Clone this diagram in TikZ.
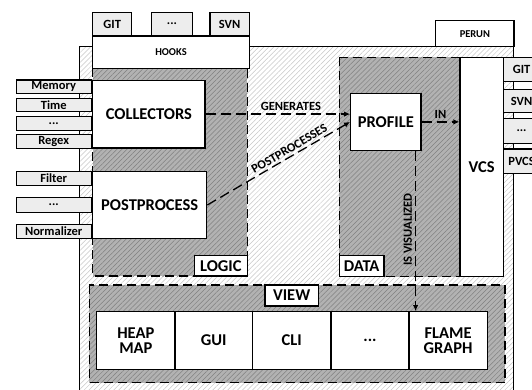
\documentclass[tikz,border=0pt]{standalone}
\usepackage{fontspec}
\setmainfont{Carlito}
\usetikzlibrary{patterns.meta,arrows.meta,calc}
\begin{document}
\begin{tikzpicture}[x=1pt,y=-1pt,
  box/.style={draw=black, line width=1.2pt, fill=white, inner sep=0pt, align=center, font=\bfseries\fontsize{16.5}{17}\selectfont},
  lbox/.style={box, fill=black!7, font=\bfseries\fontsize{12.5}{13}\selectfont},
  sbox/.style={box, font=\bfseries\fontsize{12.5}{13}\selectfont},
  tbox/.style={box, font=\bfseries\fontsize{10.5}{11}\selectfont},
  region/.style={line width=1.2pt, dash pattern=on 9pt off 5pt},
  conn/.style={line width=1.3pt, dash pattern=on 10pt off 5pt, -{Latex[length=6pt,width=5.5pt]}},
  clabel/.style={font=\bfseries\fontsize{12.5}{13}\selectfont, inner sep=1.5pt},
  lighthatch/.style={pattern={Lines[angle=45,distance=3.5pt,line width=0.5pt]}, pattern color=black!22},
  darkhatch/.style={pattern={Lines[angle=45,distance=3.5pt,line width=0.5pt]}, pattern color=black!50},
  grayfill/.style={fill=black!30}
]
\useasboundingbox (0,0) rectangle (532,390);
\clip (0,0) rectangle (532,390);
\fill[white] (0,0) rectangle (532,390);

% outer PERUN frame
\fill[white] (79.3,46.7) rectangle (513.6,400);
\fill[lighthatch] (79.3,46.7) rectangle (513.6,400);
\draw[line width=1.2pt] (79.3,400) -- (79.3,46.7) -- (513.6,46.7) -- (513.6,400);

% gray regions
\foreach \a/\b/\c/\d in {92.7/68.3/247.3/276, 339.3/57.3/460/276.7, 89.3/285/505/382.7}{
  \fill[grayfill] (\a,\b) rectangle (\c,\d);
  \fill[darkhatch] (\a,\b) rectangle (\c,\d);
  \draw[region] (\a,\b) rectangle (\c,\d);
}

% top hooks
\node[lbox, minimum width=39pt, minimum height=23.7pt] (gitT) at (112.2,24.15) {GIT};
\node[lbox, minimum width=40.6pt, minimum height=23.7pt] (dotsT) at (172,24.15) {...};
\node[lbox, minimum width=39.3pt, minimum height=23.7pt] (svnT) at (229.65,24.15) {SVN};
\node[tbox, minimum width=156.6pt, minimum height=32.3pt] (hooks) at (171,52.15) {HOOKS};
\node[tbox, minimum width=78.3pt, minimum height=26pt] (perun) at (474.85,33.7) {PERUN};

% logic
\node[box, minimum width=112.3pt, minimum height=67.8pt] (collectors) at (148.85,114.1) {COLLECTORS};
\node[box, minimum width=114pt, minimum height=66.6pt] (postprocess) at (149.7,205) {POSTPROCESS};
\node[lbox, minimum width=75pt, minimum height=13.4pt] (memory) at (53.7,86.7) {Memory};
\node[lbox, minimum width=75pt, minimum height=13.4pt] (time) at (53.7,105) {Time};
\node[lbox, minimum width=75pt, minimum height=13.8pt] (dotsA) at (53.7,123.3) {...};
\node[lbox, minimum width=75pt, minimum height=13.4pt] (regex) at (53.7,141.6) {Regex};
\node[lbox, minimum width=75pt, minimum height=13.8pt] (filter) at (53.7,178.6) {Filter};
\node[lbox, minimum width=75pt, minimum height=14.4pt] (dotsB) at (53.7,205) {...};
\node[lbox, minimum width=75pt, minimum height=14pt] (normalizer) at (53.7,231.3) {Normalizer};
\node[box, minimum width=53pt, minimum height=20.3pt] (logic) at (220.8,265.85) {LOGIC};

% data
\node[box, minimum width=70.3pt, minimum height=57.2pt] (profile) at (385.85,121.9) {PROFILE};
\node[box, minimum width=44.7pt, minimum height=21pt] (data) at (361.65,266.2) {DATA};
\node[box, minimum width=43.3pt, minimum height=219.4pt] (vcs) at (481.65,167) {VCS};
\node[lbox, minimum width=36.5pt, minimum height=24.4pt] (gitV) at (521.55,69.5) {GIT};
\node[lbox, minimum width=36.5pt, minimum height=23.4pt] (svnV) at (521.55,101) {SVN};
\node[lbox, minimum width=36.5pt, minimum height=25pt] (dotsV) at (521.55,130.8) {...};
\node[lbox, minimum width=36.5pt, minimum height=24.3pt] (pvcsV) at (521.55,161.15) {PVCS};

% view
\node[box, minimum width=53.3pt, minimum height=21pt] (view) at (291.65,295.5) {VIEW};
\node[box, minimum width=78.3pt, minimum height=57.6pt] (heap) at (135.85,340.5) {HEAP\\[-2pt]MAP};
\node[box, minimum width=77.3pt, minimum height=57.6pt] (gui) at (213.65,340.5) {GUI};
\node[box, minimum width=78.7pt, minimum height=57.6pt] (cli) at (291.65,340.5) {CLI};
\node[box, minimum width=78pt, minimum height=57.6pt] (dotsW) at (370,340.5) {...};
\node[box, minimum width=78.3pt, minimum height=57.6pt] (flame) at (448.15,340.5) {FLAME\\[-2pt]GRAPH};

% connectors
\draw[conn] (collectors.east) -- node[clabel, pos=0.59, above=1pt] {GENERATES} (collectors.east -| profile.west);
\draw[conn] (postprocess.east) -- node[clabel, pos=0.6, sloped, above=1pt] {POSTPROCESSES} (profile.west);
\draw[conn] (profile.east) -- node[clabel, pos=0.5, above=1pt] {IN} (profile.east -| vcs.west);
\draw[conn] ([xshift=-6pt]profile.south east) -- node[clabel, pos=0.49, rotate=90, anchor=south, inner sep=3pt] {IS VISUALIZED} ([xshift=-6pt]profile.south east |- flame.north);
\end{tikzpicture}
\end{document}
